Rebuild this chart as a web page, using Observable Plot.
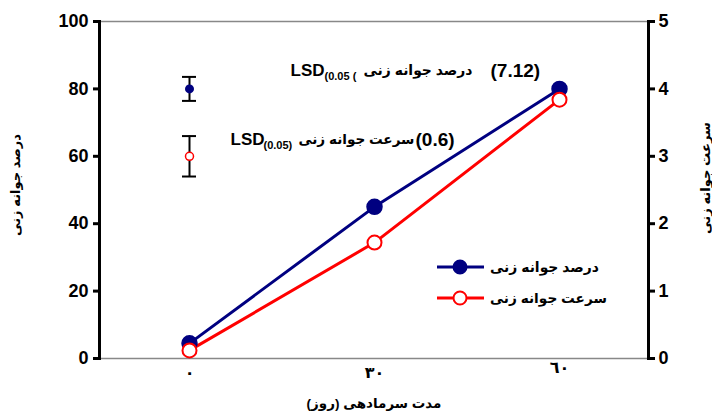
<!DOCTYPE html>
<html><head><meta charset="utf-8">
<script src="https://cdn.jsdelivr.net/npm/d3@7"></script>
<script src="https://cdn.jsdelivr.net/npm/@observablehq/plot@0.6"></script>
<style>
body{margin:0;background:#fff}
#chart svg{font-family:"Liberation Sans",Arial,"DejaVu Sans",sans-serif;font-weight:bold}
</style>
</head><body><div id="chart"></div>
<script>
// ---- data ----
const days = [0, 30, 60];
const dayLabels = ["٠", "٣٠", "٦٠"];
const germPercent = [4.5, 45, 80];        // left axis (%)
const germSpeed = [0.12, 1.72, 3.84];     // right axis
const leftTicks = [0, 20, 40, 60, 80, 100];
const rightTicks = [0, 1, 2, 3, 4, 5];
const lsdPercent = 7.12;
const lsdSpeed = 0.6;
const lsdCenterPercent = 80;   // where the LSD bar for % is drawn
const lsdCenterSpeed = 3;      // where the LSD bar for speed is drawn (right axis)
const seriesNames = ["درصد جوانه زنی", "سرعت جوانه زنی"];
const xTitle = "مدت سرمادهی (روز)";

const k = 100 / 5; // right-axis to left-axis factor
const navy = "#000080", red = "#ff0000";
const font = "'Liberation Sans', Arial, 'DejaVu Sans', sans-serif";

const pct = days.map((d, i) => ({day: d, v: germPercent[i]}));
const spd = days.map((d, i) => ({day: d, v: germSpeed[i] * k}));
const lsd = [
  {day: days[0], c: lsdCenterPercent, lo: lsdCenterPercent - lsdPercent / 2, hi: lsdCenterPercent + lsdPercent / 2, s: "p"},
  {day: days[0], c: lsdCenterSpeed * k, lo: (lsdCenterSpeed - lsdSpeed / 2) * k, hi: (lsdCenterSpeed + lsdSpeed / 2) * k, s: "s"}
];

const ann = (t, dx, dy, fontSize, className) => Plot.text([t], {frameAnchor: "top-left", textAnchor: "start", lineAnchor: "middle", dx, dy, fontSize, fontWeight: "bold", className});

const plot = Plot.plot({
  width: 712, height: 413,
  marginLeft: 99, marginRight: 64, marginTop: 21, marginBottom: 55,
  style: {fontFamily: font, fontWeight: "bold"},
  x: {type: "point", domain: days, padding: 0.48, axis: null},
  y: {domain: [0, 100], axis: null},
  marks: [
    Plot.frame({anchor: "top", stroke: "#888", strokeWidth: 1.5}),
    Plot.frame({anchor: "bottom", stroke: "#888", strokeWidth: 1.5}),
    Plot.frame({anchor: "left", stroke: "#000", strokeWidth: 3}),
    Plot.frame({anchor: "right", stroke: "#000", strokeWidth: 3}),
    Plot.axisY({anchor: "left", ticks: leftTicks, tickSize: 6, tickPadding: 5, strokeWidth: 3, fontSize: 18, fontWeight: "bold", label: null}),
    Plot.axisY({anchor: "right", ticks: rightTicks.map(t => t * k), tickFormat: d => String(d / k), tickSize: 6, tickPadding: 4, strokeWidth: 3, fontSize: 18, fontWeight: "bold", label: null}),
    Plot.axisX({ticks: days.slice(0, 2), tickFormat: (d) => dayLabels[days.indexOf(d)], tickSize: 0, tickPadding: 8, fontSize: 16, fontWeight: "bold", label: null}),
    Plot.axisX({ticks: days.slice(2), tickFormat: (d) => dayLabels[days.indexOf(d)], tickSize: 0, tickPadding: 3, fontSize: 16, fontWeight: "bold", label: null}),
    // series lines
    Plot.line(spd, {x: "day", y: "v", stroke: red, strokeWidth: 3}),
    Plot.line(pct, {x: "day", y: "v", stroke: navy, strokeWidth: 3}),
    Plot.dot(pct, {x: "day", y: "v", r: 7.5, fill: navy, stroke: navy}),
    Plot.dot(spd, {x: "day", y: "v", r: 7, fill: "#fff", stroke: red, strokeWidth: 2}),
    // LSD bars
    Plot.ruleX(lsd, {x: "day", y1: "lo", y2: "hi", stroke: "#000", strokeWidth: 2}),
    Plot.ruleY(lsd, {x1: "day", x2: "day", y: "lo", stroke: "#000", strokeWidth: 2, insetLeft: -7, insetRight: -7}),
    Plot.ruleY(lsd, {x1: "day", x2: "day", y: "hi", stroke: "#000", strokeWidth: 2, insetLeft: -7, insetRight: -7}),
    Plot.dot(lsd.filter(d => d.s === "p"), {x: "day", y: "c", r: 4.5, fill: navy}),
    Plot.dot(lsd.filter(d => d.s === "s"), {x: "day", y: "c", r: 4, fill: "#fff", stroke: red, strokeWidth: 1.5}),
    // axis titles
    Plot.text([seriesNames[0]], {frameAnchor: "left", textAnchor: "middle", lineAnchor: "middle", dx: -84, dy: -5, rotate: -90, fontSize: 14, fontWeight: "bold", className: "fit-102"}),
    Plot.text([seriesNames[1]], {frameAnchor: "right", textAnchor: "middle", lineAnchor: "middle", dx: 57, dy: -12, rotate: -90, fontSize: 14, fontWeight: "bold", className: "fit-112"}),
    Plot.text([xTitle], {frameAnchor: "bottom", textAnchor: "middle", lineAnchor: "middle", dx: 0, dy: 45, fontSize: 14, fontWeight: "bold", className: "fit-135"}),
    // LSD annotations (row 1)
    ann("LSD", 191, 49, 17),
    ann("(0.05 (", 225, 55, 11),
    ann(seriesNames[0], 264, 49, 14, "fit-109"),
    ann(`(${lsdPercent})`, 391, 49, 19),
    // LSD annotations (row 2)
    ann("LSD", 131, 118, 17),
    ann("(0.05)", 164, 124, 11),
    ann(seriesNames[1], 199, 118, 14, "fit-116"),
    ann(`(${lsdSpeed})`, 316, 118, 19)
  ]
});

// legend inside the plot area
const svg = d3.select(plot);
const leg = svg.append("g");
const items = [{name: seriesNames[0], color: navy, fill: navy, y: 267, w: 109}, {name: seriesNames[1], color: red, fill: "#fff", y: 298, w: 117}];
for (const it of items) {
  leg.append("line").attr("x1", 437).attr("x2", 484).attr("y1", it.y).attr("y2", it.y).attr("stroke", it.color).attr("stroke-width", 3);
  leg.append("circle").attr("cx", 460).attr("cy", it.y).attr("r", 6.5).attr("fill", it.fill).attr("stroke", it.color).attr("stroke-width", 2);
  leg.append("g").attr("class", "fit-" + it.w).append("text").attr("x", 490).attr("y", it.y).attr("dy", "0.35em").attr("text-anchor", "start")
    .attr("font-size", 14).attr("font-weight", "bold").attr("font-family", font).text(it.name);
}
document.getElementById("chart").appendChild(plot);

// fit Arabic texts to the widths seen in the reference (font-size only)
svg.selectAll("g[class*='fit-']").each(function () {
  const target = +(/fit-(\d+)/.exec(this.getAttribute("class"))[1]);
  d3.select(this).selectAll("text").each(function () {
    const len = this.getComputedTextLength();
    const fs = parseFloat(getComputedStyle(this).fontSize);
    if (len > 0) this.style.fontSize = Math.max(10, Math.min(20, fs * target / len)).toFixed(2) + "px";
  });
});
</script>
</body></html>
